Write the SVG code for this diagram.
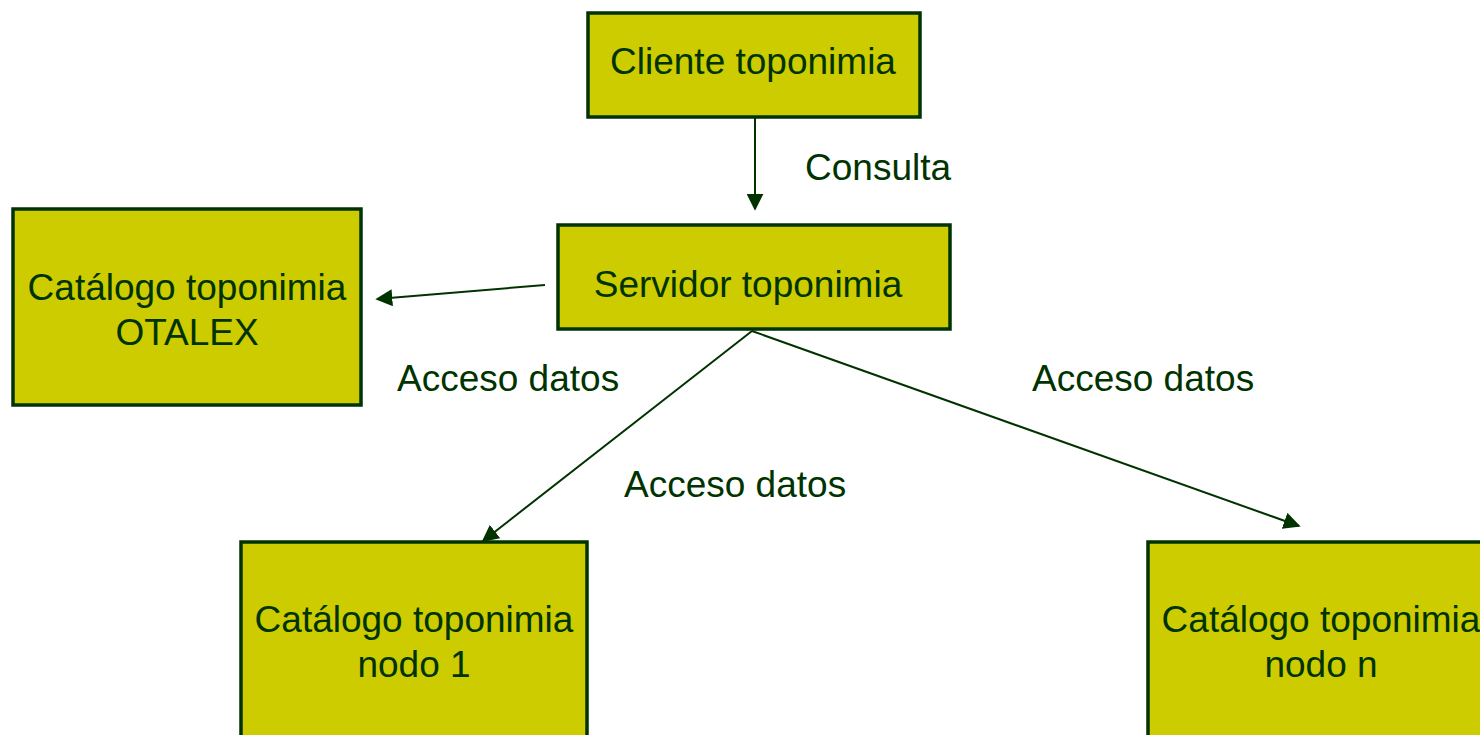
<svg xmlns="http://www.w3.org/2000/svg" width="1480" height="735" viewBox="0 0 1480 735">
<defs>
<style>
.box{fill:#CCCC00;stroke:#003300;stroke-width:3.5}
.t{font-family:"Liberation Sans",Arial,sans-serif;font-size:37px;fill:#003300}
.c{stroke:#003300;stroke-width:2;fill:none;marker-end:url(#ah)}
</style>
<marker id="ah" viewBox="0 0 10 10" refX="9" refY="5" markerWidth="8.5" markerHeight="8.5" markerUnits="strokeWidth" orient="auto">
<path d="M0,0 L10,5 L0,10 z" fill="#003300"/>
</marker>
</defs>
<rect width="1480" height="735" fill="#ffffff"/>
<g id="connectors">
<line class="c" x1="755" y1="118" x2="755" y2="209"/>
<line class="c" x1="545" y1="285" x2="377" y2="299"/>
<line class="c" x1="752" y1="331" x2="483" y2="541"/>
<line class="c" x1="752" y1="331" x2="1299" y2="526"/>
</g>
<g id="cliente">
<rect class="box" x="588" y="13" width="332" height="104"/>
<text class="t" x="753" y="74" text-anchor="middle">Cliente toponimia</text>
</g>
<g id="servidor">
<rect class="box" x="558" y="225" width="392" height="104"/>
<text class="t" x="748" y="297" text-anchor="middle">Servidor toponimia</text>
</g>
<g id="otalex">
<rect class="box" x="13" y="209" width="348" height="196"/>
<text class="t" x="187" y="300" text-anchor="middle">Catálogo toponimia</text>
<text class="t" x="187" y="345" text-anchor="middle">OTALEX</text>
</g>
<g id="nodo1">
<rect class="box" x="241" y="542" width="346" height="200"/>
<text class="t" x="414" y="632" text-anchor="middle">Catálogo toponimia</text>
<text class="t" x="414" y="677" text-anchor="middle">nodo 1</text>
</g>
<g id="nodon">
<rect class="box" x="1148" y="542" width="346" height="200"/>
<text class="t" x="1321" y="632" text-anchor="middle">Catálogo toponimia</text>
<text class="t" x="1321" y="677" text-anchor="middle">nodo n</text>
</g>
<g id="labels">
<text class="t" x="805" y="180">Consulta</text>
<text class="t" x="397" y="391">Acceso datos</text>
<text class="t" x="1032" y="391">Acceso datos</text>
<text class="t" x="624" y="497">Acceso datos</text>
</g>
</svg>
